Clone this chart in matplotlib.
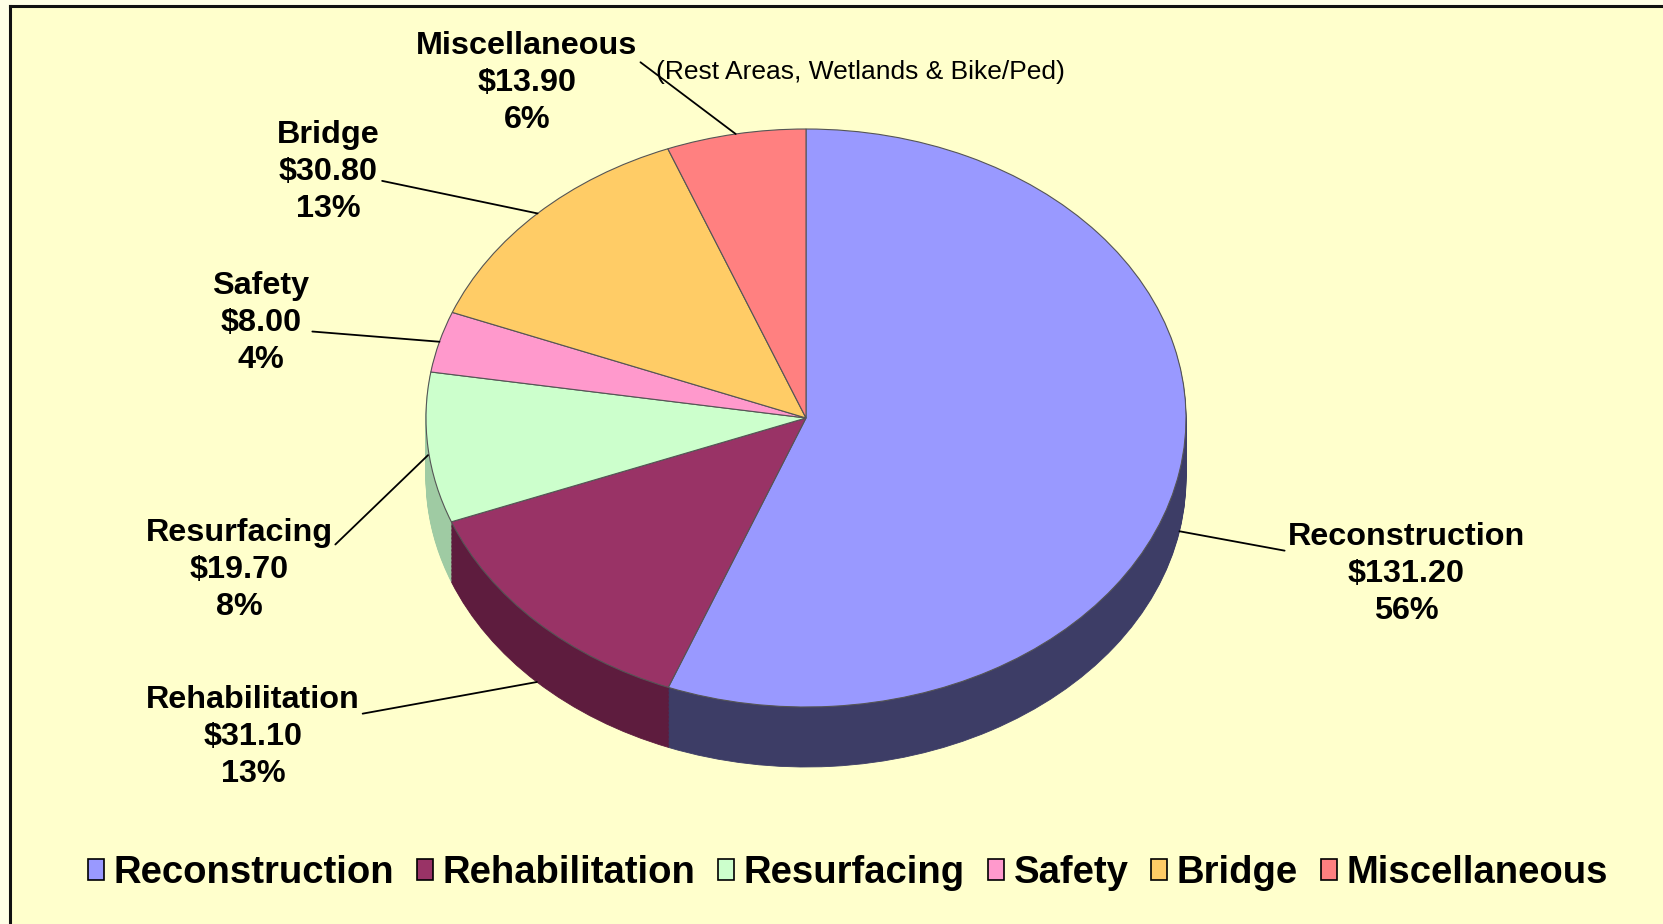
import numpy as np
import matplotlib
matplotlib.use("Agg")
import matplotlib.pyplot as plt
from matplotlib.patches import Patch

# ---------------- data ----------------
categories = ["Reconstruction", "Rehabilitation", "Resurfacing", "Safety", "Bridge", "Miscellaneous"]
values = [131.20, 31.10, 19.70, 8.00, 30.80, 13.90]
pct_labels = ["56%", "13%", "8%", "4%", "13%", "6%"]
note_text = "(Rest Areas, Wetlands & Bike/Ped)"

# ---------------- style ----------------
top_colors = ["#9999ff", "#993366", "#ccffcc", "#ff99cc", "#ffcc66", "#ff8080"]
side_colors = ["#3d3d66", "#5e1c3e", "#9fcba3", "#b36b8f", "#b38f47", "#b35a5a"]
bg = "#ffffcc"

W, H, DPI = 1663, 924, 100
fig = plt.figure(figsize=(W / DPI, H / DPI), dpi=DPI)
fig.patch.set_facecolor("#ffffe6")

# chart area background + border (left and top lines)
bgax = fig.add_axes([10 / W, 0, 1 - 10 / W, 1 - 6 / H])
bgax.set_facecolor(bg)
bgax.set_xticks([]); bgax.set_yticks([])
for s in ["right", "bottom"]:
    bgax.spines[s].set_visible(False)
for s in ["left", "top"]:
    bgax.spines[s].set_linewidth(2.2)
    bgax.spines[s].set_color("#111111")

# pie axes: positioned on the ellipse bounding box
cx, cy, rx, ry = 806, 418, 380, 289
ax = fig.add_axes([(cx - rx) / W, 1 - (cy + ry) / H, 2 * rx / W, 2 * ry / H])
ax.set_facecolor("none")
ax.axis("off")

depth = 60 / ry   # side thickness in data units
nlayers = 45
for k in range(nlayers, 0, -1):
    off = -depth * k / nlayers
    wedges, _ = ax.pie(values, colors=side_colors, startangle=90, counterclock=False,
                       center=(0, off), radius=1,
                       wedgeprops=dict(linewidth=0.6))
    for w, c in zip(wedges, side_colors):
        w.set_edgecolor(c)
        w.set_clip_on(False)

wedges, _ = ax.pie(values, colors=top_colors, startangle=90, counterclock=False,
                   center=(0, 0), radius=1,
                   wedgeprops=dict(linewidth=0.8, edgecolor="#555555"))
for w in wedges:
    w.set_clip_on(False)
ax.set_aspect("auto")
ax.set_xlim(-1, 1)
ax.set_ylim(-1, 1)

# ---------------- labels ----------------
# label block centres (figure pixels from top-left), leader attach rel pos, anchor side fraction
label_pos = [(1406, 574), (253, 737), (239, 570), (261, 323), (328, 172), (527, 83)]
rel_pos = [(0, 0.72), (1, 0.72), (1, 0.72), (1, 0.42), (1, 0.42), (1, 0.72)]
side_frac = [1.0, 1.0, 0.12, 0, 0, 0]

total = sum(values)
cum = np.cumsum([0] + values[:-1])
for i, (cat, v) in enumerate(zip(categories, values)):
    mid = (cum[i] + v / 2) / total
    theta = np.deg2rad(90 - 360 * mid)
    ax_x = np.cos(theta)
    ax_y = np.sin(theta) - depth * side_frac[i]
    txt = f"{cat}\n${v:,.2f}\n{pct_labels[i]}"
    px, py = label_pos[i]
    ax.annotate(txt, xy=(ax_x, ax_y), xycoords="data",
                xytext=(px / W, 1 - py / H), textcoords="figure fraction",
                ha="center", va="center", fontsize=23.3, fontweight="bold",
                family="Liberation Sans", linespacing=1.3, annotation_clip=False,
                arrowprops=dict(arrowstyle="-", color="black", lw=1.3,
                                shrinkA=0, shrinkB=0, relpos=rel_pos[i]))

fig.text(656 / W, 1 - 72 / H, note_text, ha="left", va="center", fontsize=19,
         family="Liberation Sans", color="black")

# ---------------- legend ----------------
handles = [Patch(facecolor=c, edgecolor="black", linewidth=1.2) for c in top_colors]
leg = fig.legend(handles, categories, loc="center", bbox_to_anchor=(848 / W, 1 - 873 / H),
                 ncol=6, frameon=False, handlelength=0.42, handleheight=0.5,
                 handletextpad=0.25, columnspacing=0.6,
                 prop=dict(family="Liberation Sans", weight="bold", size=27.5))

fig.savefig("out.png", dpi=DPI, facecolor=fig.get_facecolor())
